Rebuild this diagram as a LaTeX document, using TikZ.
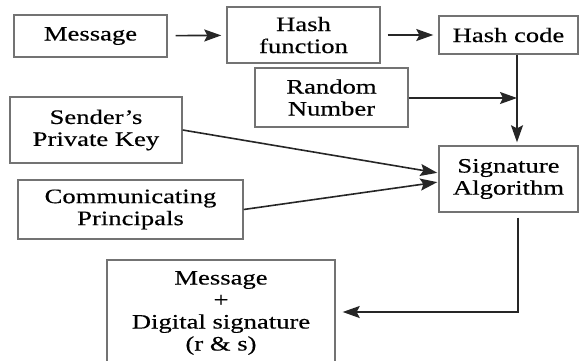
\documentclass[tikz,border=0pt]{standalone}
\usepackage{fontspec}
\setmainfont{Liberation Serif}[FakeStretch=1.3,FakeBold=0.4]
\usetikzlibrary{arrows.meta}

\begin{document}
\begin{tikzpicture}[
    x=1pt, y=-1pt, % pixel like units, y grows downwards
    > = {Stealth[length=17pt,width=12pt,inset=3pt]}, % arrow head style
    box/.style ={draw=black!55, line width=1.4pt, align=center,
                 inner sep=0pt, font=\fontsize{20.5}{22}\selectfont},
    link/.style ={line width=1.6pt, black!85},
]
\useasboundingbox (0,0) rectangle (582,360);

% boxes
\node[box, minimum width=153, minimum height=42] (msg) at (90.5,36) {Message};
\node[box, minimum width=153, minimum height=56] (hashfn) at (303.5,35) {Hash\\function};
\node[box, minimum width=139, minimum height=38] (hashcode) at (508.5,35) {Hash code};
\node[box, minimum width=153, minimum height=59] (rand) at (331.5,97.5) {Random\\Number};
\node[box, minimum width=172, minimum height=66] (sender) at (96,130) {Sender's\\Private Key};
\node[box, minimum width=225, minimum height=59] (comm) at (130.5,209.5) {Communicating\\Principals};
\node[box, minimum width=139, minimum height=66] (sig) at (508.5,179) {Signature\\Algorithm};
\node[box, minimum width=228, minimum height=106] (out) at (221,313)
    {Message\\+\\Digital signature\\(r \& s)};

% connectors
\draw[link,->,shorten <=8pt,shorten >=5pt] (msg) -- (hashfn);
\draw[link,->,shorten <=7pt,shorten >=5pt] (hashfn.east |- hashcode) -- (hashcode);
\draw[link,->,shorten >=3pt] (hashcode.south -| 517,0) -- (sig.north -| 517,0);
\coordinate (join) at (517,98);
\draw[link,->] (rand.east |- join) -- (join);
\draw[link,->,shorten >=1pt] (sender.east) -- (sig.west |- 0,173);
\draw[link,->,shorten >=1pt] (comm.east) -- (sig.west |- 0,182);
\coordinate (bend) at (518,312);
\draw[link,->,shorten >=7pt] (sig.south -| bend) ++(0,5) -- (bend) -- (out.east |- bend);
\end{tikzpicture}
\end{document}
